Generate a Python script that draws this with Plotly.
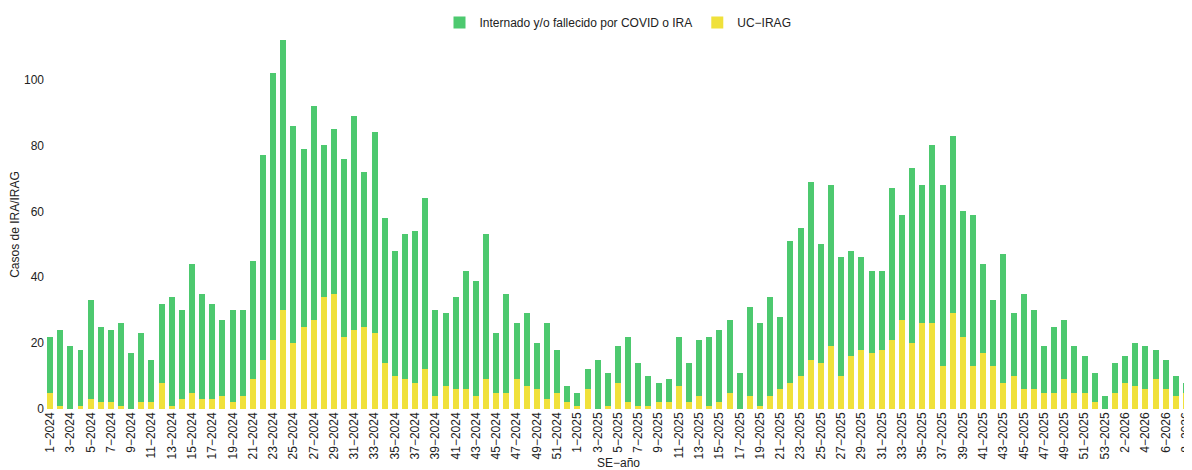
import plotly.graph_objs as go

# semanas epidemiologicas: 1-52 de 2024, 1-53 de 2025, 1-8 de 2026
semanas = (
    [f"{s}\u22122024" for s in range(1, 53)]
    + [f"{s}\u22122025" for s in range(1, 54)]
    + [f"{s}\u22122026" for s in range(1, 9)]
)

# total de casos por semana (altura de la barra apilada)
total = [
    22, 24, 19, 18, 33, 25, 24, 26, 17, 23, 15, 32, 34, 30, 44, 35, 32, 27, 30, 30,
    45, 77, 102, 112, 86, 79, 92, 80, 85, 76, 89, 72, 84, 58, 48, 53, 54, 64, 30, 29,
    34, 42, 39, 53, 23, 35, 26, 29, 20, 26, 18, 7,
    5, 12, 15, 11, 19, 22, 14, 10, 8, 9, 22, 14, 21, 22, 24, 27, 11, 31,
    26, 34, 28, 51, 55, 69, 50, 68, 46, 48, 46, 42, 42, 67, 59, 73, 68, 80,
    68, 83, 60, 59, 44, 33, 47, 29, 35, 30, 19, 25, 27, 19, 16, 11, 4,
    14, 16, 20, 19, 18, 15, 10, 8,
]

# UC-IRAG
uc_irag = [
    5, 1, 0, 1, 3, 2, 2, 1, 0, 2, 2, 8, 1, 3, 5, 3, 3, 4, 2, 4,
    9, 15, 21, 30, 20, 25, 27, 34, 35, 22, 24, 25, 23, 14, 10, 9, 8, 12, 4, 7,
    6, 6, 4, 9, 5, 5, 9, 7, 6, 3, 5, 2,
    1, 6, 0, 1, 8, 2, 1, 1, 2, 2, 7, 2, 4, 1, 2, 5, 0, 4,
    1, 4, 6, 8, 10, 15, 14, 19, 10, 16, 18, 17, 18, 21, 27, 20, 26, 26,
    13, 29, 22, 13, 17, 13, 8, 10, 6, 6, 5, 5, 9, 5, 5, 2, 0,
    5, 8, 7, 6, 9, 6, 4, 5,
]

# internado y/o fallecido = total - UC-IRAG
internado = [t - u for t, u in zip(total, uc_irag)]

verde = "#4DC96F"
amarillo = "#F0E13B"
fuente = "Liberation Sans, Arial, sans-serif"

fig = go.Figure()
fig.add_trace(
    go.Bar(
        x=semanas,
        y=uc_irag,
        name="UC\u2212IRAG",
        marker=dict(color=amarillo, line=dict(width=0)),
    )
)
fig.add_trace(
    go.Bar(
        x=semanas,
        y=internado,
        name="Internado y/o fallecido por COVID o IRA",
        marker=dict(color=verde, line=dict(width=0)),
    )
)

# la pagina tiene 8px de margen, la figura se ajusta a lo que queda
fig.update_layout(
    width=1184,
    height=462,
    barmode="stack",
    bargap=0.41,
    template="simple_white",
    paper_bgcolor="white",
    plot_bgcolor="white",
    font=dict(family=fuente, size=12, color="#222222"),
    margin=dict(l=37, r=1, t=31, b=61),
    showlegend=True,
    legend=dict(
        orientation="h",
        traceorder="reversed",
        x=0.5,
        xanchor="center",
        y=1.0838,
        yanchor="top",
        font=dict(size=12),
        itemwidth=30,
        tracegroupgap=0,
    ),
    xaxis=dict(
        tickmode="array",
        tickvals=semanas[::2],
        ticktext=semanas[::2],
        tickangle=-90,
        showline=False,
        ticks="",
        showgrid=False,
        zeroline=False,
        automargin=False,
    ),
    yaxis=dict(
        title=dict(text="Casos de IRA/IRAG", font=dict(size=12)),
        range=[0, 112],
        tickvals=[0, 20, 40, 60, 80, 100],
        showline=False,
        ticks="",
        showgrid=False,
        zeroline=False,
        automargin=False,
    ),
    annotations=[
        dict(
            text="SE\u2212año",
            x=0.5,
            xref="paper",
            y=0,
            yref="paper",
            yanchor="top",
            yshift=-45,
            showarrow=False,
            font=dict(size=12),
        )
    ],
)

fig.write_html("out.html")
